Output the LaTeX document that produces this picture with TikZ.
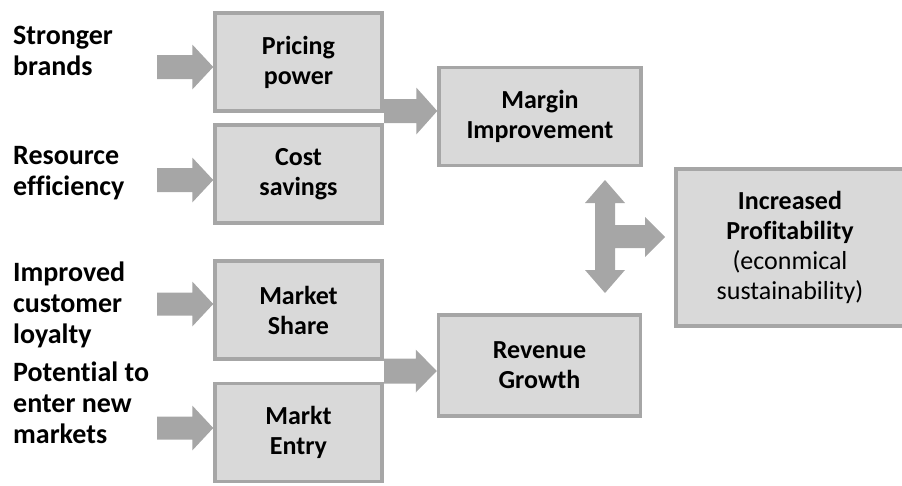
\documentclass[tikz,border=0pt]{standalone}
\usepackage{fontspec}
\setmainfont[Ligatures=NoCommon]{Carlito}
\usetikzlibrary{calc}
\definecolor{boxfill}{HTML}{D9D9D9}
\definecolor{boxline}{HTML}{A6A6A6}
\definecolor{arrfill}{HTML}{A6A6A6}
\newcommand{\harrow}[4]{%
  \fill[arrfill] let \p1=(#1), \p2=(#2) in
   (\x1,\y1+#3) -- (\x2-21pt,\y1+#3) -- (\x2-21pt,\y1+#4) -- (\x2,\y1)
   -- (\x2-21pt,\y1-#4) -- (\x2-21pt,\y1-#3) -- (\x1,\y1-#3) -- cycle;}
\begin{document}
\begin{tikzpicture}[x=1pt,y=-1pt,
  box/.style={draw=boxline, fill=boxfill, line width=3.5pt, align=center,
    font=\fontsize{26}{30}\selectfont\bfseries, text=black, inner sep=0pt},
  small/.style={box, minimum width=167pt, minimum height=98pt},
  lbl/.style={anchor=north west, align=left, inner sep=0pt,
    font=\fontsize{28}{31}\selectfont\bfseries}]
\useasboundingbox (0,0) rectangle (902,485);

% left labels
\node[lbl] (l1) at (13,26) {Stronger\\brands};
\node[lbl] (l2) at (13,146) {Resource\\efficiency};
\node[lbl] (l3) at (13,262) {Improved\\customer\\loyalty};
\node[lbl] (l4) at (13,362) {Potential to\\enter new\\markets};

% boxes
\node[small] (pricing) at (298.5,62) {Pricing\\power};
\node[small] (cost) at (298.5,174) {Cost\\savings};
\node[small] (share) at (298.5,310) {Market\\Share};
\node[small] (entry) at (298.5,432.5) {Markt\\Entry};
\node[box, minimum width=202pt, minimum height=98pt] (margin) at (540,116.5) {Margin\\Improvement};
\node[box, minimum width=202pt, minimum height=101pt] (revenue) at (539.5,365.5) {Revenue\\Growth};
\node[box, minimum width=228pt, minimum height=157pt] (profit) at (790,247.5)
  {Increased\\Profitability\\{\mdseries(econmical}\\{\mdseries sustainability)}};

% input arrows
\coordinate (a1) at (157,67);
\coordinate (a2) at (157,180);
\coordinate (a3) at (157,304);
\coordinate (a4) at (157,428);
\harrow{a1}{pricing.west |- a1}{12pt}{22.5pt}
\harrow{a2}{cost.west |- a2}{12pt}{22.5pt}
\harrow{a3}{share.west |- a3}{11.5pt}{22.5pt}
\harrow{a4}{entry.west |- a4}{11.5pt}{22.5pt}

% to margin / revenue
\coordinate (m0) at (384,111);
\harrow{m0}{margin.west |- m0}{12pt}{23.5pt}
\coordinate (r0) at (384,371);
\harrow{r0}{revenue.west |- r0}{12.5pt}{21.5pt}

% T arrow
\coordinate (tj) at (605,237);
\fill[arrfill, shift={(tj)}]
  (0,-57) -- (20,-34) -- (10,-34) -- (10,-12) -- (40,-12) -- (40,-20)
  -- (60,0) -- (40,20) -- (40,11) -- (10,11) -- (10,33) -- (20,33)
  -- (0,56) -- (-20,33) -- (-10,33) -- (-10,-34) -- (-20,-34) -- cycle;
\end{tikzpicture}
\end{document}
